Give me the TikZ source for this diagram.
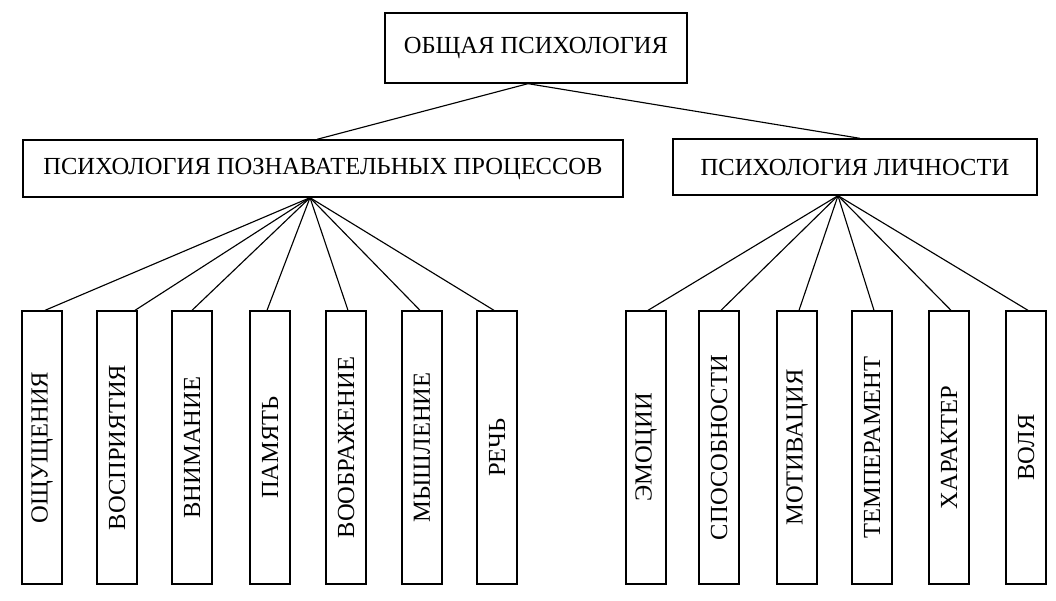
\documentclass[tikz,border=0pt]{standalone}
\usepackage{fontspec}
\usepackage{graphicx}
\setmainfont{Liberation Serif}
\usetikzlibrary{calc}
\begin{document}
\begin{tikzpicture}[x=0.75pt,y=-0.75pt,
  box/.style={draw, line width=1pt, inner sep=0pt, font=\fontsize{18.4}{21}\selectfont},
  leaf/.style={box, minimum width=30pt, minimum height=204.75pt},
  link/.style={line width=0.85pt}]
\useasboundingbox[fill=white] (0,0) rectangle (1056,600);

\node[box, minimum width=226.5pt, minimum height=52.5pt] (top) at (536,48) {ОБЩАЯ ПСИХОЛОГИЯ};
\node[box, minimum width=450pt, minimum height=42.75pt] (cog) at (323,168.5) {ПСИХОЛОГИЯ ПОЗНАВАТЕЛЬНЫХ ПРОЦЕССОВ};
\node[box, minimum width=273pt, minimum height=42pt] (pers) at (855,167) {ПСИХОЛОГИЯ ЛИЧНОСТИ};

\coordinate (apex) at ($(top.south)+(-8,0)$);
\draw[link] (apex) -- ($(cog.north)+(-6,0)$);
\draw[link] (apex) -- ($(pers.north)+(5,0)$);

% left leaves
\node[leaf] (l1) at (42,447.5) {\rotatebox{90}{ОЩУЩЕНИЯ}};
\node[leaf] (l2) at (117,447.5) {\rotatebox{90}{ВОСПРИЯТИЯ}};
\node[leaf] (l3) at (192,447.5) {\rotatebox{90}{ВНИМАНИЕ}};
\node[leaf] (l4) at (270,447.5) {\rotatebox{90}{ПАМЯТЬ}};
\node[leaf] (l5) at (346,447.5) {\rotatebox{90}{ВООБРАЖЕНИЕ}};
\node[leaf] (l6) at (422,447.5) {\rotatebox{90}{МЫШЛЕНИЕ}};
\node[leaf] (l7) at (497,447.5) {\rotatebox{90}{РЕЧЬ}};

% right leaves
\node[leaf] (r1) at (646,447.5) {\rotatebox{90}{ЭМОЦИИ}};
\node[leaf] (r2) at (719,447.5) {\rotatebox{90}{СПОСОБНОСТИ}};
\node[leaf] (r3) at (797,447.5) {\rotatebox{90}{МОТИВАЦИЯ}};
\node[leaf] (r4) at (872,447.5) {\rotatebox{90}{ТЕМПЕРАМЕНТ}};
\node[leaf] (r5) at (949,447.5) {\rotatebox{90}{ХАРАКТЕР}};
\node[leaf] (r6) at (1026,447.5) {\rotatebox{90}{ВОЛЯ}};

\coordinate (lf) at ($(cog.south)+(-13,0)$);
\coordinate (rf) at ($(pers.south)+(-17,0)$);

\draw[link] (lf) -- ($(l1.north)+(3,0)$);
\draw[link] (lf) -- ($(l2.north)+(18,0)$);
\draw[link] (lf) -- (l3.north);
\draw[link] (lf) -- ($(l4.north)+(-3,0)$);
\draw[link] (lf) -- ($(l5.north)+(2,0)$);
\draw[link] (lf) -- ($(l6.north)+(-2,0)$);
\draw[link] (lf) -- ($(l7.north)+(-3,0)$);

\foreach \n in {r1,r2,r3,r4,r5,r6}
  \draw[link] (rf) -- ($(\n.north)+(2,0)$);
\end{tikzpicture}
\end{document}
